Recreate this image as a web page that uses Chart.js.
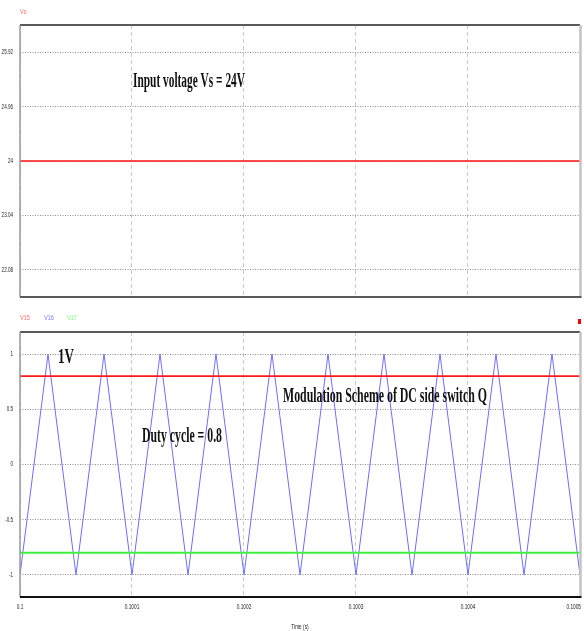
<!DOCTYPE html>
<html>
<head>
<meta charset="utf-8">
<script src="https://cdn.jsdelivr.net/npm/chart.js@4.4.1/dist/chart.umd.min.js"></script>
<style>
  html, body { margin: 0; padding: 0; background: #fff; }
  #top { position: absolute; left: 0; top: 0; width: 584px; height: 305px; }
  #bottom { position: absolute; left: 0; top: 305px; width: 584px; height: 326px; }
</style>
</head>
<body>
<canvas id="top" width="584" height="305"></canvas>
<canvas id="bottom" width="584" height="326"></canvas>
<script>
// Time axis (s)
const timeRange = [0.1, 0.1005];
const timeTicks = [0.1, 0.1001, 0.1002, 0.1003, 0.1004, 0.1005];
const timeTickLabels = ['0.1', '0.1001', '0.1002', '0.1003', '0.1004', '0.1005'];

// Input voltage Vs
const vsTime = [0.1, 0.1005];
const vsValues = [24, 24];
const vsTicks = [22.08, 23.04, 24, 24.96, 25.92];
const vsTickLabels = ['22.08', '23.04', '24', '24.96', '25.92'];

// Modulation: V15 (reference +0.8), V16 (carrier), V17 (reference -0.8)
const v15Time = [0.1, 0.1005];
const v15Values = [0.8, 0.8];
const v17Time = [0.1, 0.1005];
const v17Values = [-0.8, -0.8];
const v16Time = [0.1, 0.100025, 0.10005, 0.100075, 0.1001, 0.100125, 0.10015, 0.100175,
                 0.1002, 0.100225, 0.10025, 0.100275, 0.1003, 0.100325, 0.10035, 0.100375,
                 0.1004, 0.100425, 0.10045, 0.100475, 0.1005];
const v16Values = [-1, 1, -1, 1, -1, 1, -1, 1, -1, 1, -1, 1, -1, 1, -1, 1, -1, 1, -1, 1, -1];
const modTicks = [-1, -0.5, 0, 0.5, 1];
const modTickLabels = ['-1', '-0.5', '0', '0.5', '1'];

const pts = (xs, ys) => xs.map((x, i) => ({ x, y: ys[i] }));

const SMALL_FONT = "7px 'Liberation Sans', Arial, sans-serif";

// Draws text squeezed horizontally by factor sx
function squeezed(ctx, text, x, y, sx, align, baseline) {
  ctx.save();
  ctx.translate(x, y);
  ctx.scale(sx, 1);
  ctx.textAlign = align;
  ctx.textBaseline = baseline;
  ctx.fillText(text, 0, 0);
  ctx.restore();
}

// Plot frame drawn around the chart area
const framePlugin = {
  id: 'frame',
  afterDraw(chart, args, o) {
    const { ctx, chartArea: a } = chart;
    ctx.save();
    const line = (x1, y1, x2, y2, c, w) => {
      ctx.strokeStyle = c; ctx.lineWidth = w;
      ctx.beginPath(); ctx.moveTo(x1, y1); ctx.lineTo(x2, y2); ctx.stroke();
    };
    line(a.left, a.top, a.right, a.top, '#5a5a5a', 2);
    line(a.right + 0.5, a.top, a.right + 0.5, a.bottom, '#c4c4c4', 2.5);
    line(a.left, a.top, a.left, a.bottom, '#9a9a9a', 1.5);
    line(a.left, a.bottom, a.right + 1.5, a.bottom, o.bottomColor || '#5a5a5a', 2);
    ctx.restore();
  }
};

// Narrow tick labels, series names and free text labels
const labelPlugin = {
  id: 'labels',
  afterDraw(chart, args, o) {
    const { ctx } = chart;
    const a = chart.chartArea;
    ctx.save();
    ctx.font = SMALL_FONT;
    ctx.fillStyle = '#222';
    const ys = chart.scales.y;
    o.yTicks.values.forEach((v, i) => {
      squeezed(ctx, o.yTicks.labels[i], a.left - 7, ys.getPixelForValue(v), 0.65, 'right', 'middle');
    });
    if (o.xTicks) {
      const xs = chart.scales.x;
      const sx = 0.68;
      o.xTicks.values.forEach((v, i) => {
        const text = o.xTicks.labels[i];
        const half = ctx.measureText(text).width * sx / 2;
        // keep the last label inside the canvas
        const x = Math.min(xs.getPixelForValue(v), chart.width - 3 - half);
        squeezed(ctx, text, x, a.bottom + 10, sx, 'center', 'middle');
      });
      squeezed(ctx, o.xTitle, (a.left + a.right) / 2, a.bottom + 30, sx, 'center', 'middle');
    }
    (o.names || []).forEach(n => {
      ctx.fillStyle = n.color;
      squeezed(ctx, n.text, n.x, n.y, 0.8, 'left', 'alphabetic');
    });
    ctx.fillStyle = '#111';
    (o.notes || []).forEach(n => {
      ctx.font = n.font;
      const w = ctx.measureText(n.text).width;
      squeezed(ctx, n.text, n.x, n.y, n.width / w, 'left', 'alphabetic');
    });
    (o.marks || []).forEach(m => {
      ctx.fillStyle = m.color;
      ctx.fillRect(m.x, m.y, m.w, m.h);
    });
    ctx.restore();
  }
};

function timeScale(height) {
  return {
    type: 'linear',
    min: timeRange[0],
    max: timeRange[1],
    afterBuildTicks: s => { s.ticks = timeTicks.map(v => ({ value: v })); },
    afterFit: s => { s.height = height; s.paddingLeft = 0; s.paddingRight = 0; },
    ticks: { display: false },
    grid: { color: '#c8c8c8', lineWidth: 1, drawTicks: false },
    border: { display: false, dash: [4, 3] }
  };
}

function valueScale(min, max, ticks) {
  return {
    type: 'linear',
    min, max,
    afterBuildTicks: s => { s.ticks = ticks.map(v => ({ value: v })); },
    afterFit: s => { s.width = 20; s.paddingTop = 0; s.paddingBottom = 0; },
    ticks: { display: false },
    grid: { color: '#8c8c8c', lineWidth: 1, drawTicks: false },
    border: { display: false, dash: [1, 1.5] }
  };
}

const common = {
  responsive: false,
  animation: false,
  events: [],
  elements: { point: { radius: 0 }, line: { tension: 0 } }
};
const noLegend = { legend: { display: false }, tooltip: { enabled: false } };

new Chart(document.getElementById('top'), {
  type: 'line',
  data: {
    datasets: [{
      label: 'Vs', data: pts(vsTime, vsValues),
      borderColor: '#ff1010', borderWidth: 1.6, fill: false
    }]
  },
  options: {
    ...common,
    layout: { padding: { left: 0, top: 25, right: 4, bottom: 8 } },
    scales: {
      x: timeScale(0),
      y: valueScale(21.6, 26.4, vsTicks)
    },
    plugins: {
      ...noLegend,
      frame: {},
      labels: {
        yTicks: { values: vsTicks, labels: vsTickLabels },
        names: [{ text: 'Vs', x: 20, y: 14, color: '#ff6a6a' }],
        notes: [{ text: 'Input voltage Vs = 24V', x: 133, y: 87,
                  font: "bold 20px 'Liberation Serif', 'Times New Roman', serif", width: 112 }]
      }
    }
  },
  plugins: [framePlugin, labelPlugin]
});

new Chart(document.getElementById('bottom'), {
  type: 'line',
  data: {
    datasets: [
      { label: 'V15', data: pts(v15Time, v15Values), borderColor: '#ff1a1a', borderWidth: 1.6, order: 0 },
      { label: 'V17', data: pts(v17Time, v17Values), borderColor: '#3ef03e', borderWidth: 2, order: 0 },
      { label: 'V16', data: pts(v16Time, v16Values), borderColor: '#6e6eff', borderWidth: 1, order: 1 }
    ]
  },
  options: {
    ...common,
    layout: { padding: { left: 0, top: 27, right: 4, bottom: 0 } },
    scales: {
      x: timeScale(34),
      y: valueScale(-1.2, 1.2, modTicks)
    },
    plugins: {
      ...noLegend,
      frame: { bottomColor: '#111' },
      labels: {
        yTicks: { values: modTicks, labels: modTickLabels },
        xTicks: { values: timeTicks, labels: timeTickLabels },
        xTitle: 'Time (s)',
        names: [
          { text: 'V15', x: 20, y: 15, color: '#ff6a6a' },
          { text: 'V16', x: 44, y: 15, color: '#7a7aff' },
          { text: 'V17', x: 67, y: 15, color: '#7aff7a' }
        ],
        notes: [
          { text: '1V', x: 58, y: 58, font: "bold 22px 'Liberation Serif', 'Times New Roman', serif", width: 16 },
          { text: 'Modulation Scheme of DC side switch Q', x: 283, y: 97,
            font: "bold 21px 'Liberation Serif', 'Times New Roman', serif", width: 204 },
          { text: 'Duty cycle = 0.8', x: 142, y: 137,
            font: "bold 21px 'Liberation Serif', 'Times New Roman', serif", width: 80 }
        ],
        marks: [{ x: 578, y: 14, w: 3, h: 5, color: '#ff0000' }]
      }
    }
  },
  plugins: [framePlugin, labelPlugin]
});
</script>
</body>
</html>
